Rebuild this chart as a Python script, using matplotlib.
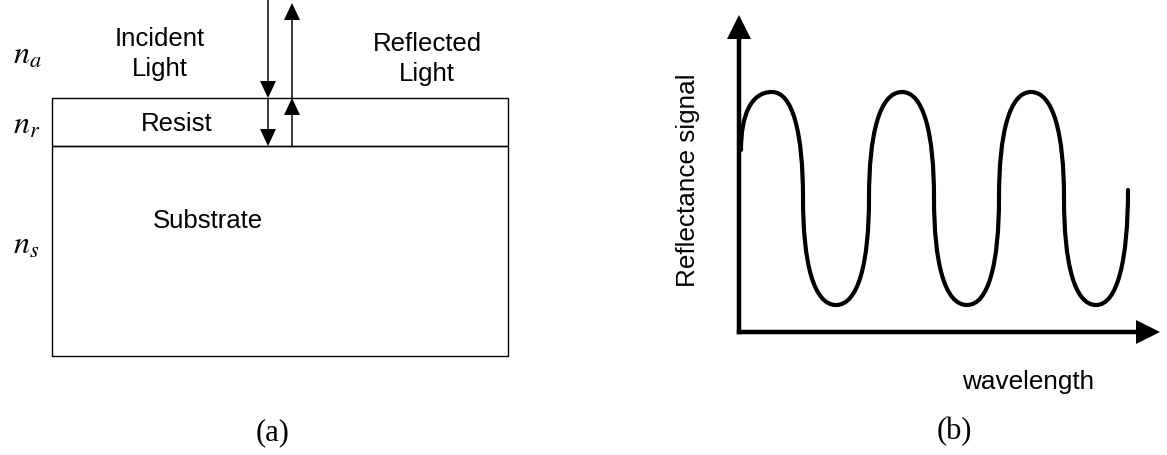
import matplotlib.pyplot as plt
from matplotlib.patches import Rectangle, PathPatch
from matplotlib.path import Path

plt.rcParams['font.family'] = ['Liberation Sans', 'DejaVu Sans']
plt.rcParams['mathtext.fontset'] = 'stix'

# panel (a): layer stack, pixel coords (y down)
stack_left, stack_right = 52, 508
layer_tops = [98, 146]          # resist top, substrate top
layer_bottoms = [146, 356]
layer_names = ['Resist', 'Substrate']
layer_label_pos = [(177, 124), (208, 221)]
index_labels = ['$n_a$', '$n_r$', '$n_s$']
index_baselines = [64, 134, 254]

incident_x = 268
reflected_x = 292

# panel (b): reflectance wave anchors (peaks, troughs, crossings)
wave_x = [741, 772, 803, 836, 869, 902, 934, 967, 999, 1031, 1064, 1096, 1128]
wave_y = [150, 92, 198, 305, 198, 92, 198, 305, 198, 92, 198, 305, 190]
wave_kind = ['v', 'h', 'v', 'h', 'v', 'h', 'v', 'h', 'v', 'h', 'v', 'h', 'v']
origin = (739, 332)
y_tip = 15
x_tip = 1160

fig = plt.figure(figsize=(11.67, 4.55), dpi=100)
ax = fig.add_axes([0, 0, 1, 1])
ax.set_xlim(0, 1167)
ax.set_ylim(455, 0)
ax.axis('off')

# layers
for top, bot, name, pos in zip(layer_tops, layer_bottoms, layer_names, layer_label_pos):
    ax.add_patch(Rectangle((stack_left, top), stack_right - stack_left, bot - top,
                           fill=False, ec='black', lw=1.0))
    ax.text(pos[0], pos[1], name, ha='center', va='center', fontsize=18.5)

for lab, yb in zip(index_labels, index_baselines):
    ax.text(13, yb, lab, ha='left', va='baseline', fontsize=23)

# light arrows
thin = dict(width=1.5, head_width=16, head_length=17, length_includes_head=True,
            fc='black', ec='none')
ax.arrow(incident_x, 0, 0, layer_tops[0], **thin)
ax.arrow(incident_x, layer_tops[0], 0, layer_tops[1] - layer_tops[0], **thin)
ax.arrow(reflected_x, layer_tops[1], 0, layer_tops[0] - layer_tops[1], **thin)
ax.arrow(reflected_x, layer_tops[0], 0, 3 - layer_tops[0], **thin)

ax.text(160, 54, 'Incident\nLight', ha='center', va='center', fontsize=18.5,
        linespacing=1.3)
ax.text(427, 59, 'Reflected\nLight', ha='center', va='center', fontsize=18.5,
        linespacing=1.3)
ax.text(273, 433, '(a)', ha='center', va='center', fontsize=22, family='Liberation Serif')

# panel (b) axes
thick = dict(width=4.5, head_width=24, head_length=24, length_includes_head=True,
             fc='black', ec='none')
ax.arrow(origin[0], origin[1] + 2.2, 0, y_tip - origin[1] - 2.2, **thick)
ax.arrow(origin[0] - 2.2, origin[1], x_tip - origin[0] + 2.2, 0, **thick)

# wave as cubic bezier through anchors
a, b = 0.68, 0.6
verts = [(wave_x[0], wave_y[0])]
codes = [Path.MOVETO]
for i in range(len(wave_x) - 1):
    px, py, qx, qy = wave_x[i], wave_y[i], wave_x[i + 1], wave_y[i + 1]
    dx, dy = qx - px, qy - py
    c1 = (px + a * dx, py) if wave_kind[i] == 'h' else (px, py + b * dy)
    c2 = (qx - a * dx, qy) if wave_kind[i + 1] == 'h' else (qx, qy - b * dy)
    verts += [c1, c2, (qx, qy)]
    codes += [Path.CURVE4] * 3
ax.add_patch(PathPatch(Path(verts, codes), fill=False, ec='black', lw=3.0,
                       capstyle='round'))

ax.text(688, 180, 'Reflectance signal', rotation=90, ha='center', va='center',
        fontsize=18.8)
ax.text(1028, 382, 'wavelength', ha='center', va='center', fontsize=18.8)
ax.text(954, 432, '(b)', ha='center', va='center', fontsize=22, family='Liberation Serif')

fig.savefig('out.png', dpi=100)
